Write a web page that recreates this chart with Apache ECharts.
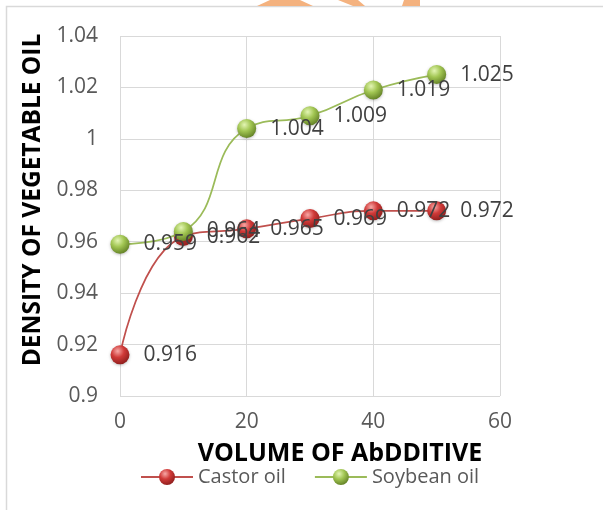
<!DOCTYPE html>
<html>
<head>
<meta charset="utf-8">
<script src="https://cdn.jsdelivr.net/npm/echarts@6/dist/echarts.min.js"></script>
<style>html,body{margin:0;padding:0;background:#fff;}#c{width:603px;height:510px;}</style>
</head>
<body>
<div id="c"></div>
<script>
var volumes = [0, 10, 20, 30, 40, 50];
var castorOil = [0.916, 0.962, 0.965, 0.969, 0.972, 0.972];
var soybeanOil = [0.959, 0.964, 1.004, 1.009, 1.019, 1.025];
var xTicks = [0, 20, 40, 60];
var yTicks = [0.9, 0.92, 0.94, 0.96, 0.98, 1, 1.02, 1.04];
var xTitle = 'VOLUME OF AbDDITIVE';
var yTitle = 'DENSITY OF VEGETABLE OIL';
var seriesNames = ['Castor oil', 'Soybean oil'];

function sphere(light, mid, dark) {
  return {
    type: 'radial', x: 0.38, y: 0.3, r: 0.75,
    colorStops: [
      {offset: 0, color: light},
      {offset: 0.45, color: mid},
      {offset: 1, color: dark}
    ]
  };
}
var FONT = 'Open Sans';
function pairs(ys) { return volumes.map(function (v, i) { return [v, ys[i]]; }); }

var chart = echarts.init(document.getElementById('c'));
chart.setOption({
  animation: false,
  backgroundColor: '#ffffff',
  graphic: [
    {type: 'rect', shape: {x: 6.5, y: 6.5, width: 700, height: 600}, style: {fill: 'none', stroke: '#d9d9d9', lineWidth: 1.5}, z: -1},
    {type: 'polygon', shape: {points: [[270, 0], [300, 0], [313, 6], [257, 6]]}, style: {fill: '#f4b27f'}},
    {type: 'polygon', shape: {points: [[338, 0], [358, 0], [365, 6], [353, 6]]}, style: {fill: '#f4b27f'}},
    {type: 'polygon', shape: {points: [[404, 0], [420, 0], [420, 6], [402, 6]]}, style: {fill: '#f4b27f'}}
  ],
  grid: {left: 120, right: 103, top: 36, bottom: 114, containLabel: false},
  legend: {
    data: seriesNames,
    left: 135, top: 462,
    itemWidth: 52, itemHeight: 20, itemGap: 28,
    textStyle: {fontFamily: FONT, fontSize: 20, color: '#595959'}
  },
  xAxis: {
    type: 'value', min: 0, max: 60, interval: 20,
    name: xTitle, nameLocation: 'middle', nameGap: 45,
    nameTextStyle: {fontFamily: FONT, fontWeight: 'bold', fontSize: 25, color: '#000', padding: [0, 0, 0, 60]},
    axisLine: {show: false}, axisTick: {show: false},
    axisLabel: {fontFamily: FONT, fontSize: 21, color: '#595959', margin: 16,
      formatter: function (v) { return xTicks.indexOf(v) >= 0 ? String(v) : ''; }},
    splitLine: {show: true, lineStyle: {color: '#d9d9d9', width: 1}}
  },
  yAxis: {
    type: 'value', min: 0.9, max: 1.04, interval: 0.02,
    name: yTitle, nameLocation: 'middle', nameRotate: 90, nameGap: 74,
    nameTextStyle: {fontFamily: FONT, fontWeight: 'bold', fontSize: 24.5, color: '#000', padding: [0, 0, 0, 32]},
    axisLine: {show: false}, axisTick: {show: false},
    axisLabel: {fontFamily: FONT, fontSize: 21, color: '#595959', margin: 22,
      formatter: function (v) {
        var r = Math.round(v * 100) / 100;
        for (var i = 0; i < yTicks.length; i++) if (Math.abs(yTicks[i] - r) < 1e-9) return String(yTicks[i]);
        return '';
      }},
    splitLine: {show: true, lineStyle: {color: '#d9d9d9', width: 1}}
  },
  series: [
    {
      name: seriesNames[0], type: 'line', smooth: 0.5,
      data: pairs(castorOil),
      symbol: 'circle', symbolSize: 19,
      lineStyle: {color: '#c0504d', width: 1.75},
      itemStyle: {color: sphere('#f7a8a6', '#d03a38', '#8a1c1b'), shadowColor: 'rgba(0,0,0,0.25)', shadowBlur: 3, shadowOffsetY: 1},
      label: {show: true, position: 'right', distance: 14, fontFamily: FONT, fontSize: 21, color: '#404040',
        formatter: function (p) { return String(p.value[1]); }},
      z: 3
    },
    {
      name: seriesNames[1], type: 'line', smooth: 0.5,
      data: pairs(soybeanOil),
      symbol: 'circle', symbolSize: 19,
      lineStyle: {color: '#9bbb59', width: 1.75},
      itemStyle: {color: sphere('#e3f5b4', '#a2c653', '#5f7d23'), shadowColor: 'rgba(0,0,0,0.25)', shadowBlur: 3, shadowOffsetY: 1},
      label: {show: true, position: 'right', distance: 14, fontFamily: FONT, fontSize: 21, color: '#404040',
        formatter: function (p) { return String(p.value[1]); }},
      z: 4
    }
  ]
});
</script>
</body>
</html>
